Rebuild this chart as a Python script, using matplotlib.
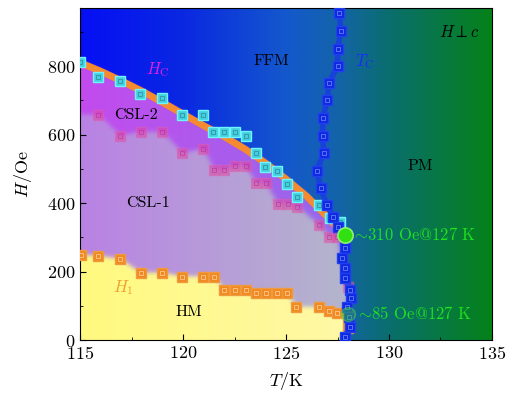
import numpy as np
import matplotlib
matplotlib.use("Agg")
import matplotlib.pyplot as plt

plt.rcParams['font.family'] = 'serif'
plt.rcParams['font.serif'] = ['cmr10', 'DejaVu Serif']
plt.rcParams['mathtext.fontset'] = 'cm'
plt.rcParams['axes.unicode_minus'] = False
plt.rcParams['axes.formatter.use_mathtext'] = True

# --- data ---
# Hc boundary line (orange band)
hc_line_T = [115, 116, 117, 118, 119, 120, 121, 122, 123, 124, 125, 126, 127, 127.8]
hc_line_H = [810, 785, 757, 727, 694, 660, 626, 594, 558, 517, 470, 420, 360, 308]

# Hc points (cyan squares)
hc_T = [115.0, 115.89, 116.94, 117.9, 118.96, 119.97, 120.99, 121.47, 122.0, 122.5, 123.04,
        123.54, 124.0, 124.55, 125.05, 125.55, 126.62, 127.14, 127.62]
hc_H = [812, 768, 757, 718, 708, 658, 656, 607, 607, 607, 597,
        546, 504, 494, 456, 419, 395, 356, 346]

# CSL-2 / CSL-1 boundary (pink squares)
csl_T = [115.89, 116.94, 117.96, 118.99, 119.97, 120.99, 121.52, 122.0, 122.5, 123.04,
         123.54, 124.03, 124.6, 125.1, 125.55, 126.62, 127.1, 127.46, 128.02]
csl_H = [658, 597, 607, 607, 546, 557, 497, 497, 507, 507,
         458, 458, 397, 397, 388, 336, 302, 302, 154]

# H1 points (orange squares)
h1_T = [115.05, 115.89, 116.94, 117.96, 118.99, 119.97, 120.99, 121.52, 122.0, 122.5, 123.04,
        123.54, 124.03, 124.55, 125.05, 125.5, 126.62, 127.1, 127.49, 128.02, 128.02]
h1_H = [248, 245, 236, 195, 195, 185, 185, 185, 146, 146, 146,
        136, 136, 136, 136, 97, 95, 86, 80, 68, 34]

# Tc points (blue squares)
tc_T = [127.59, 127.67, 127.51, 127.51, 127.09, 127.0, 126.78, 126.78, 126.83, 126.49, 126.68,
        126.98, 127.3, 127.52, 127.86, 127.7, 127.86, 127.86, 128.1, 128.14, 127.94, 128.07,
        128.1, 127.86]
tc_H = [955, 902, 851, 801, 751, 700, 648, 596, 546, 495, 443,
        395, 360, 331, 268, 239, 210, 180, 146, 122, 97, 68,
        39, 10]

# highlighted points
mark_T = [127.86, 128.02]
mark_H = [307, 76]
mark_labels = [r'$\!\!\sim\!$310 Oe@127 K', r'$\!\!\sim\!$85 Oe@127 K']

# --- background ---
T = np.linspace(115, 135, 500)
H = np.linspace(0, 970, 480)
TT, HH = np.meshgrid(T, H)

grad_T = [115, 120, 125, 127.5, 130, 135]
grad_C = np.array([[5, 15, 245], [10, 40, 225], [20, 88, 205], [20, 100, 170],
                   [10, 110, 110], [5, 130, 25]]) / 255.0
img = np.zeros(TT.shape + (3,))
for c in range(3):
    img[..., c] = np.interp(TT, grad_T, grad_C[:, c])

order = np.argsort(tc_H)
tc_of_H = np.interp(HH, np.array(tc_H)[order], np.array(tc_T)[order])
hc_of_T = np.interp(TT, hc_line_T, hc_line_H)
csl_of_T = np.interp(TT, csl_T, csl_H)
h1_of_T = np.interp(TT, h1_T, h1_H)

inside = (TT < tc_of_H) & (HH < hc_of_T)
f = np.clip((TT - 115) / 12.5, 0, 1)[..., None]
csl2 = (1 - f) * np.array([195, 75, 238]) / 255 + f * np.array([150, 105, 235]) / 255
csl1 = (1 - f) * np.array([185, 130, 228]) / 255 + f * np.array([180, 180, 205]) / 255
hm = (1 - f) * np.array([255, 250, 128]) / 255 + f * np.array([255, 248, 165]) / 255

m2 = inside & (HH >= csl_of_T)
m1 = inside & (HH < csl_of_T) & (HH >= h1_of_T)
m0 = inside & (HH < h1_of_T)
img[m2] = csl2[m2]
img[m1] = csl1[m1]
img[m0] = hm[m0]


def blur(a, s):
    x = np.arange(-3 * s, 3 * s + 1)
    k = np.exp(-x ** 2 / (2 * s ** 2))
    k /= k.sum()
    p = 3 * s
    out = np.empty_like(a)
    for c in range(3):
        ch = np.pad(a[..., c], p, mode='edge')
        ch = np.apply_along_axis(lambda r: np.convolve(r, k, mode='valid'), 1, ch)
        ch = np.apply_along_axis(lambda r: np.convolve(r, k, mode='valid'), 0, ch)
        out[..., c] = ch
    return out


img = blur(img, 3)

# --- figure ---
fig = plt.figure(figsize=(5.08, 3.94), dpi=100)
ax = fig.add_axes([0.1575, 0.137, 0.811, 0.843])
ax.imshow(img, extent=[115, 135, 0, 970], origin='lower', aspect='auto',
          interpolation='bilinear', zorder=0)

ax.plot(hc_line_T, hc_line_H, color='#f58a30', lw=5, solid_capstyle='round', zorder=2)

ax.plot(csl_T, csl_H, 's', ms=6.5, mfc='#e040a0', mec='#e060b0', alpha=0.5, zorder=3)
ax.plot(csl_T, csl_H, 's', ms=2.8, mfc='none', mec='#c02890', mew=0.6, alpha=0.6, zorder=3)

ax.plot(h1_T, h1_H, 's', ms=6.5, mfc='#f08a20', mec='#f09a40', zorder=3)
ax.plot(h1_T, h1_H, 's', ms=2.8, mfc='none', mec='#ffc890', mew=0.6, zorder=3)

ax.plot(hc_T, hc_H, 's', ms=6.5, mfc='#40d0e0', mec='#70f4ff', mew=1.0, zorder=4)
ax.plot(hc_T, hc_H, 's', ms=2.8, mfc='none', mec='#3a90a0', mew=0.6, zorder=4)

ax.plot(tc_T, tc_H, '-', color='#1a36e8', lw=4, alpha=0.75, zorder=4)
ax.plot(tc_T, tc_H, 's', ms=6.5, mfc='#1028e0', mec='#2040f0', zorder=5)
ax.plot(tc_T, tc_H, 's', ms=2.8, mfc='none', mec='#6080ff', mew=0.6, zorder=5)

ax.plot(mark_T[0], mark_H[0], 'o', ms=11, mfc='#30e010', mec='#90f070', mew=1.2, zorder=6)
ax.plot(mark_T[1], mark_H[1], 'o', ms=10, mfc='#30d020', mec='#50e040', alpha=0.45, zorder=6)
for t, h, s in zip(mark_T, mark_H, mark_labels):
    ax.text(t + 0.5, h, s, color='#20e020', fontsize=12, va='center', ha='left', zorder=7)

ax.text(124.3, 813, 'FFM', fontsize=11.5, ha='center', va='center')
ax.text(128.8, 813, r'$T_{\rm C}$', fontsize=12, color='#1a2cff', ha='center', va='center',
        zorder=7)
ax.text(133.4, 900, r'$H\perp c$', fontsize=12, ha='center', va='center')
ax.text(118.8, 790, r'$H_{\rm C}$', fontsize=12, color='#e020e0', ha='center', va='center')
ax.text(117.7, 658, 'CSL-2', fontsize=11.5, ha='center', va='center')
ax.text(118.3, 400, 'CSL-1', fontsize=11.5, ha='center', va='center')
ax.text(131.5, 508, 'PM', fontsize=11.5, ha='center', va='center')
ax.text(117.1, 152, r'$H_1$', fontsize=12, color='#f0a030', ha='center', va='center')
ax.text(120.3, 82, 'HM', fontsize=11.5, ha='center', va='center')

ax.set_xlim(115, 135)
ax.set_ylim(0, 970)
ax.set_xticks([115, 120, 125, 130, 135])
ax.set_xticks(np.arange(115, 135.1, 2.5), minor=True)
ax.set_yticks([0, 200, 400, 600, 800])
ax.set_yticks(np.arange(0, 901, 100), minor=True)
ax.tick_params(direction='in', length=4, width=0.8, labelsize=13)
ax.tick_params(which='minor', direction='in', length=2.5, width=0.6)
ax.set_xlabel(r'$T$/K', fontsize=13, labelpad=6)
ax.set_ylabel(r'$H$/Oe', fontsize=13, labelpad=9)
for sp in ax.spines.values():
    sp.set_linewidth(0.8)

fig.savefig('out.png', dpi=100)
